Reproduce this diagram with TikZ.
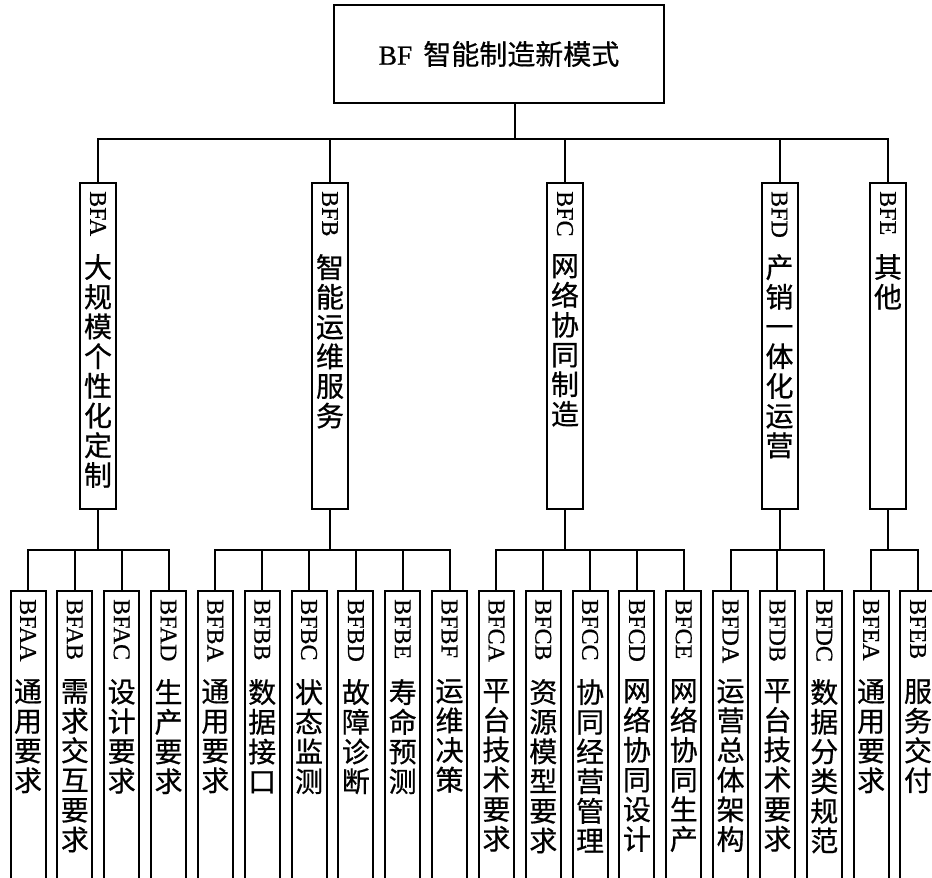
\documentclass[tikz,border=0pt]{standalone}
\usepackage{fontspec}
\setmainfont{Liberation Serif}[FakeBold=0.6]
\newfontfamily\cjk{Noto Sans CJK SC}[FakeBold=0.6]
\tikzset{
  box/.style={draw, line width=2pt, rectangle, inner sep=0pt, fill=white},
  topbox/.style={box, minimum width=330pt, minimum height=98pt},
  lvl/.style={box, minimum width=36pt, minimum height=326pt},
  leaf/.style={box, minimum width=35pt, minimum height=320pt},
  latin/.style={inner sep=0pt, font=\fontsize{24}{26}\selectfont},
  cjkcol/.style={inner sep=0pt, align=center, font=\cjk\fontsize{28}{29.7}\selectfont},
  conn/.style={line width=2pt},
}
\newcommand\lvlbox[4]{%
  \node[lvl] (#1) at (#2,-346) {};
  \node[latin, rotate=-90, anchor=west] (#1lat) at ([yshift=-9pt]#1.north) {#3};
  \node[cjkcol, anchor=north] (#1cjk) at ([yshift=-72pt]#1.north) {#4};
}
\newcommand\leafbox[4]{%
  \node[leaf] (#1) at ({28+46.84*#2},-751) {};
  \node[latin, rotate=-90, anchor=west] (#1lat) at ([yshift=-9pt]#1.north) {#3};
  \node[cjkcol, anchor=north] (#1cjk) at ([yshift=-89pt]#1.north) {#4};
}
\begin{document}
\begin{tikzpicture}[x=1pt,y=1pt]
\useasboundingbox (0,0) rectangle (932,-878);
\clip (0,0) rectangle (932,-878);
\fill[white] (0,0) rectangle (932,-878);

% top
\node[topbox] (top) at (499,-54) {\fontsize{27.5}{30}\selectfont BF\hspace{11pt}{\cjk\fontsize{28}{30}\selectfont 智能制造新模式}};

% level 1
\lvlbox{A}{98}{BFA}{大\\规\\模\\个\\性\\化\\定\\制}
\lvlbox{B}{330}{BFB}{智\\能\\运\\维\\服\\务}
\lvlbox{C}{565}{BFC}{网\\络\\协\\同\\制\\造}
\lvlbox{D}{779.5}{BFD}{产\\销\\一\\体\\化\\运\\营}
\lvlbox{E}{888}{BFE}{其\\他}

% leaves
\leafbox{AA}{0}{BFAA}{通\\用\\要\\求}
\leafbox{AB}{1}{BFAB}{需\\求\\交\\互\\要\\求}
\leafbox{AC}{2}{BFAC}{设\\计\\要\\求}
\leafbox{AD}{3}{BFAD}{生\\产\\要\\求}
\leafbox{BA}{4}{BFBA}{通\\用\\要\\求}
\leafbox{BB}{5}{BFBB}{数\\据\\接\\口}
\leafbox{BC}{6}{BFBC}{状\\态\\监\\测}
\leafbox{BD}{7}{BFBD}{故\\障\\诊\\断}
\leafbox{BE}{8}{BFBE}{寿\\命\\预\\测}
\leafbox{BF}{9}{BFBF}{运\\维\\决\\策}
\leafbox{CA}{10}{BFCA}{平\\台\\技\\术\\要\\求}
\leafbox{CB}{11}{BFCB}{资\\源\\模\\型\\要\\求}
\leafbox{CC}{12}{BFCC}{协\\同\\经\\营\\管\\理}
\leafbox{CD}{13}{BFCD}{网\\络\\协\\同\\设\\计}
\leafbox{CE}{14}{BFCE}{网\\络\\协\\同\\生\\产}
\leafbox{DA}{15}{BFDA}{运\\营\\总\\体\\架\\构}
\leafbox{DB}{16}{BFDB}{平\\台\\技\\术\\要\\求}
\leafbox{DC}{17}{BFDC}{数\\据\\分\\类\\规\\范}
\leafbox{EA}{18}{BFEA}{通\\用\\要\\求}
\leafbox{EB}{19}{BFEB}{服\\务\\交\\付}

% connectors top
\coordinate (j0) at (515,-138.5);
\draw[conn] (top.south -| j0) -- (j0);
\foreach \n in {A,B,C,D,E} \draw[conn] (\n.north) |- (j0);

% group connectors
\foreach \g/\ls in {A/{AA,AB,AC,AD}, B/{BA,BB,BC,BD,BE,BF}, C/{CA,CB,CC,CD,CE}, D/{DA,DB,DC}, E/{EA,EB}} {
  \path (\g.south) ++(0,-40) coordinate (j\g);
  \draw[conn] (\g.south) -- (j\g);
  \foreach \l in \ls \draw[conn] (\l.north) |- (j\g);
}
\end{tikzpicture}
\end{document}
